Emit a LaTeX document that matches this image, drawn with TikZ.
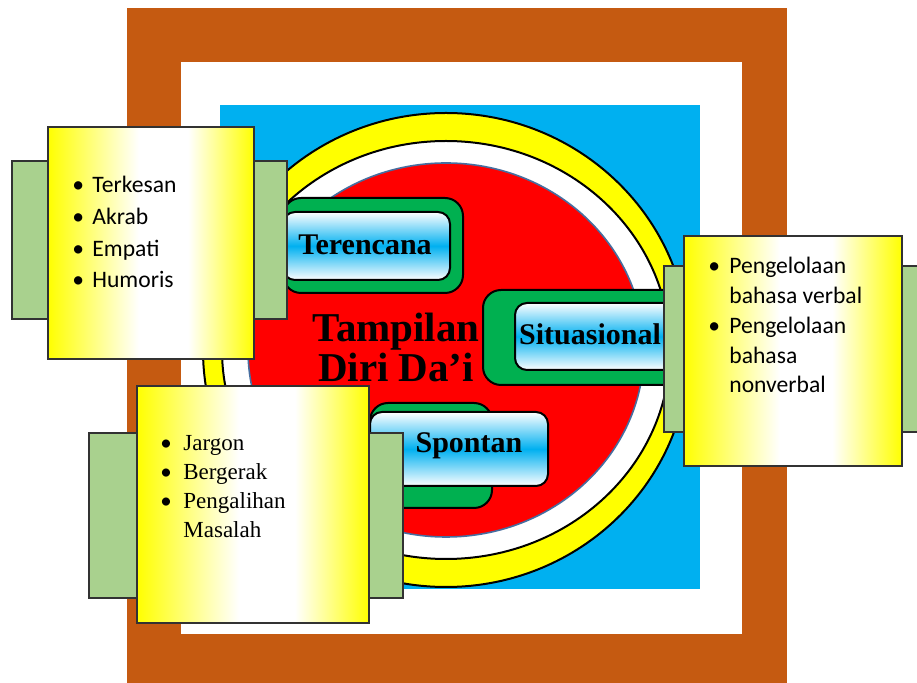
\documentclass[tikz,border=0pt]{standalone}
\usepackage{fontspec}
\setmainfont{Liberation Serif}
\newfontfamily\calibri{Carlito}
\usetikzlibrary{positioning}

\definecolor{laranja}{RGB}{197,90,17}
\definecolor{azulceu}{RGB}{0,176,240}
\definecolor{amarelo}{RGB}{255,255,0}
\definecolor{vermelho}{RGB}{255,0,0}
\definecolor{verde}{RGB}{0,176,80}
\definecolor{verdeclaro}{RGB}{169,209,142}
\definecolor{cinza}{RGB}{50,50,50}
\definecolor{azulaco}{RGB}{70,110,160}

\pgfdeclarehorizontalshading{notaamarela}{100bp}{color(0bp)=(amarelo); color(25bp)=(amarelo);
    color(47bp)=(white); color(59bp)=(white); color(75bp)=(amarelo); color(100bp)=(amarelo)}

\newcommand{\bul}[1]{\makebox[#1][l]{{\calibri\textbullet}}}

\begin{document}
\begin{tikzpicture}[x=0.5pt, y=-0.5pt,
    anel/.style={draw=black, line width=1pt},
    fundo/.style={fill=verdeclaro, draw=cinza, line width=1pt},
    nota/.style={shading=notaamarela, draw=cinza, line width=1pt},
    moldura/.style={fill=verde, draw=black, line width=1pt, rounded corners=9pt},
    rotulo/.style={top color=white, bottom color=white, middle color=azulceu, draw=black, line width=1pt, rounded corners=6pt},
    titulo/.style={font=\bfseries\fontsize{15}{18}\selectfont, inner sep=0pt},
    lista/.style={align=left, anchor=north west, inner sep=0pt}]

    \useasboundingbox (0,0) rectangle (917,683);

    % molduras do fundo
    \fill[laranja] (127,8) rectangle (787,690);
    \fill[white] (181,62) rectangle (742,634);
    \fill[azulceu] (220,105) rectangle (700,589);

    % aneis
    \filldraw[fill=amarelo, anel] (446,350) ellipse [x radius=243, y radius=237];
    \filldraw[fill=white, anel] (446,350) ellipse [x radius=224, y radius=209];
    \filldraw[fill=vermelho, draw=azulaco, line width=0.8pt] (446,350) ellipse [x radius=198, y radius=187];

    % texto central
    \node[align=center, anchor=north, inner sep=0pt, font=\bfseries\fontsize{20.5}{16}\selectfont] (tampilan) at (396,313) {Tampilan\\Diri Da'i};

    % rotulos
    \draw[moldura] (283,198) rectangle (463,293);
    \draw[rotulo] (283,212) rectangle (450,280);
    \node[titulo, anchor=base] (terencana) at (365,255) {Terencana};

    \draw[moldura] (483,290) rectangle (690,385);
    \draw[rotulo] (515,303) rectangle (690,370);
    \node[titulo, anchor=base] (situasional) at (590,345) {Situasional};

    \draw[moldura] (370,403) rectangle (492,508);
    \draw[rotulo] (370,412) rectangle (548,486);
    \node[titulo, anchor=base] (spontan) at (469,453) {Spontan};

    % caixas com listas
    \draw[fundo] (12,161) rectangle (287,319);
    \draw[nota] (48,127) rectangle (254,359);
    \node[lista, font=\calibri\fontsize{11.8}{15.85}\selectfont] (sikap) at (72,176)
        {\bul{10pt}Terkesan\\ \bul{10pt}Akrab\\ \bul{10pt}Empati\\ \bul{10pt}Humoris};

    \draw[fundo] (664,266) rectangle (930,432);
    \draw[nota] (684,236) rectangle (902,466);
    \node[lista, font=\calibri\fontsize{11.8}{14.9}\selectfont] (bahasa) at (708,257)
        {\bul{10.5pt}Pengelolaan\\ \hspace*{10.5pt}bahasa verbal\\ \bul{10.5pt}Pengelolaan\\ \hspace*{10.5pt}bahasa\\ \hspace*{10.5pt}nonverbal};

    \draw[fundo] (89,433) rectangle (403,598);
    \draw[nota] (137,386) rectangle (369,623);
    \node[lista, font=\fontsize{11.5}{14.5}\selectfont] (gaya) at (160,435)
        {\bul{11.5pt}Jargon\\ \bul{11.5pt}Bergerak\\ \bul{11.5pt}Pengalihan\\ \hspace*{11.5pt}Masalah};

\end{tikzpicture}
\end{document}
